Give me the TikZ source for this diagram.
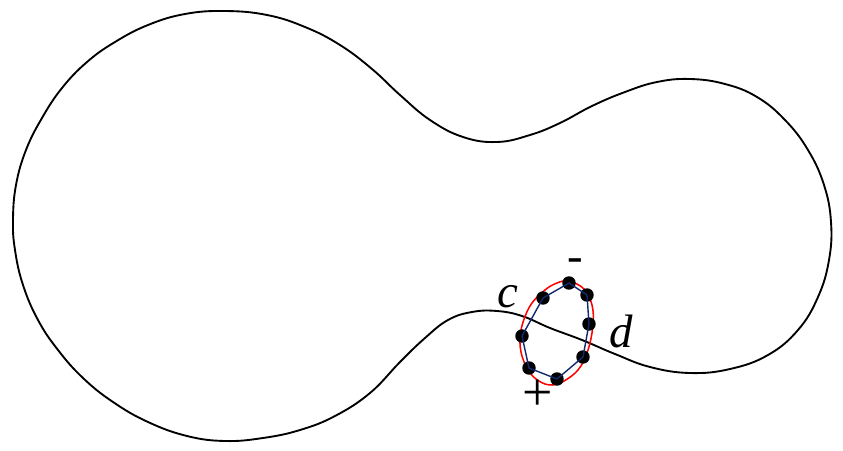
\documentclass[tikz,border=0pt]{standalone}
\usepackage{fontspec}
\setmainfont{Liberation Serif}
\usetikzlibrary{positioning}
\definecolor{navy}{RGB}{20,40,110}
\begin{document}
\begin{tikzpicture}[
    x=0.03cm, y=-0.03cm,
    outline/.style={draw=black, line width=1.6pt, line join=round},
    loopcurve/.style={draw=red, line width=1.3pt},
    chain/.style={draw=navy, line width=1.2pt, line join=round},
    bead/.style={circle, fill=black, inner sep=0pt, minimum size=11.5pt},
    lbl/.style={font=\fontsize{40}{46}\selectfont, inner sep=0pt}
]
    \useasboundingbox (0,0) rectangle (843,451);

    % Dumbbell outline
    \draw[outline] plot[smooth cycle, tension=0.7] coordinates {
        (225,11) (267,15) (305,27) (340,45) (372,69) (400,95) (430,120)
        (463,137) (497,142) (530,135) (560,123) (592,106) (625,92)
        (657,82) (690,79) (725,84) (757,97) (785,120) (808,150) (824,185)
        (831,222) (829,260) (818,297) (798,330) (768,355) (730,369)
        (690,373) (650,367) (615,354) (582,340) (550,328) (522,316)
        (497,311) (472,312) (448,320) (425,338) (400,362) (370,393)
        (335,416) (300,430) (263,438) (225,441) (187,436) (148,422)
        (113,402) (83,378) (58,350) (38,320) (23,285) (15,250) (13,220)
        (16,185) (26,150) (42,118) (62,88) (87,62) (115,42) (148,25)
        (185,14)};

    % Smooth loop
    \draw[loopcurve] plot[smooth cycle, tension=0.6] coordinates {
        (569,281) (584,289) (592,305) (593,325) (588,350) (578,370)
        (560,383) (545,384) (530,373) (521,352) (521,330) (530,306)
        (545,290) (557,283)};

    % Beads
    \node[bead] (b1) at (569,283) {};
    \node[bead] (b2) at (587,295) {};
    \node[bead] (b3) at (589,324) {};
    \node[bead] (b4) at (583,357) {};
    \node[bead] (b5) at (557,379) {};
    \node[bead] (b6) at (529,368) {};
    \node[bead] (b7) at (522,336) {};
    \node[bead] (b8) at (543,298) {};

    % Polygon through beads
    \draw[chain] (b1.center) -- (b2.center) -- (b3.center) -- (b4.center)
        -- (b5.center) -- (b6.center) -- (b7.center) -- (b8.center) -- cycle;

    % Labels
    \node[lbl, anchor=base] (c) at (508,307) {\itshape c};
    \node[lbl, anchor=base] (d) at (621,347) {\itshape d};
    \node[lbl] (minus) at (575,265) {-};
    \node[lbl, font=\fontsize{46}{50}\selectfont] (plus) at (538,395) {+};
\end{tikzpicture}
\end{document}
